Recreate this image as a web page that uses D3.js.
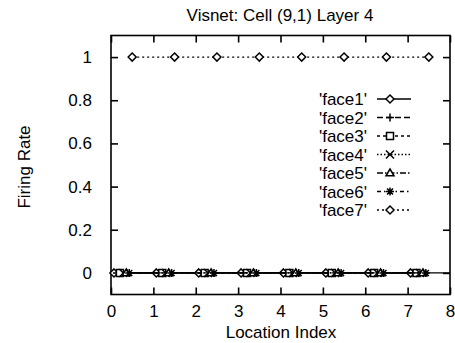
<!DOCTYPE html>
<html>
<head>
<meta charset="utf-8">
<script src="https://cdn.jsdelivr.net/npm/d3@7"></script>
<style>
  html, body { margin: 0; padding: 0; background: #fff; }
  svg { display: block; font-family: "Liberation Sans", Arial, sans-serif; }
</style>
</head>
<body>
<svg id="chart" width="455" height="343"></svg>
<script>
// Series names
const faces = ["'face1'", "'face2'", "'face3'", "'face4'", "'face5'", "'face6'", "'face7'"];
// Location index at which each series is sampled
const face1X = [0.07, 1.07, 2.07, 3.07, 4.07, 5.07, 6.07, 7.07];
const face2X = [0.14, 1.14, 2.14, 3.14, 4.14, 5.14, 6.14, 7.14];
const face3X = [0.21, 1.21, 2.21, 3.21, 4.21, 5.21, 6.21, 7.21];
const face4X = [0.29, 1.29, 2.29, 3.29, 4.29, 5.29, 6.29, 7.29];
const face5X = [0.36, 1.36, 2.36, 3.36, 4.36, 5.36, 6.36, 7.36];
const face6X = [0.43, 1.43, 2.43, 3.43, 4.43, 5.43, 6.43, 7.43];
const face7X = [0.5, 1.5, 2.5, 3.5, 4.5, 5.5, 6.5, 7.5];
// Firing rate of each series
const face1Y = [0, 0, 0, 0, 0, 0, 0, 0];
const face2Y = [0, 0, 0, 0, 0, 0, 0, 0];
const face3Y = [0, 0, 0, 0, 0, 0, 0, 0];
const face4Y = [0, 0, 0, 0, 0, 0, 0, 0];
const face5Y = [0, 0, 0, 0, 0, 0, 0, 0];
const face6Y = [0, 0, 0, 0, 0, 0, 0, 0];
const face7Y = [1, 1, 1, 1, 1, 1, 1, 1];
// Tick labels
const xTicks = [0, 1, 2, 3, 4, 5, 6, 7, 8];
const yTicks = [0, 0.2, 0.4, 0.6, 0.8, 1];

const xs = [face1X, face2X, face3X, face4X, face5X, face6X, face7X];
const ys = [face1Y, face2Y, face3Y, face4Y, face5Y, face6Y, face7Y];
const dashes = [null, "6,3", "3,3", "1.5,2", "6,2,1.5,2", "4,3,1.5,3", "2,3"];
const symbols = ["diamond", "plus", "square", "cross", "triangle", "star", "diamond"];

const svg = d3.select("#chart");
const L = 111, R = 450, T = 35.5, B = 294.5;
const x = d3.scaleLinear().domain([0, 8]).range([L, R]);
const y = d3.scaleLinear().domain([-0.1, 1.1]).range([B, T]);
const tickLen = 7;
const fs = 17;

// Frame
svg.append("rect").attr("x", L).attr("y", T).attr("width", R - L).attr("height", B - T)
  .attr("fill", "none").attr("stroke", "#000").attr("stroke-width", 1.6);

// Axes with inward ticks, mirrored on the opposite sides
const fmt = d => d3.format("~g")(d);
svg.append("g").attr("transform", `translate(0,${B})`)
  .call(d3.axisBottom(x).tickValues(xTicks).tickSize(-tickLen).tickPadding(10).tickFormat(fmt))
  .call(g => g.select(".domain").remove());
svg.append("g").attr("transform", `translate(0,${T})`)
  .call(d3.axisTop(x).tickValues(xTicks).tickSize(-tickLen).tickFormat(""))
  .call(g => g.select(".domain").remove());
svg.append("g").attr("transform", `translate(${L},0)`)
  .call(d3.axisLeft(y).tickValues(yTicks).tickSize(-tickLen).tickPadding(19).tickFormat(fmt))
  .call(g => g.select(".domain").remove());
svg.append("g").attr("transform", `translate(${R},0)`)
  .call(d3.axisRight(y).tickValues(yTicks).tickSize(-tickLen).tickFormat(""))
  .call(g => g.select(".domain").remove());
svg.selectAll(".tick line").attr("stroke", "#000").attr("stroke-width", 1.6);
svg.selectAll(".tick text").attr("font-size", fs).attr("fill", "#000")
  .attr("font-family", "Liberation Sans, Arial, sans-serif");

// Zero axis
svg.append("line").attr("x1", L).attr("x2", R).attr("y1", y(0)).attr("y2", y(0))
  .attr("stroke", "#000").attr("stroke-width", 1.3);

// Marker drawing
function marker(g, type, cx, cy) {
  const s = 4;
  const p = g.append("path").attr("fill", "#fff").attr("stroke", "#000").attr("stroke-width", 1.5);
  let d;
  switch (type) {
    case "diamond": d = `M${cx},${cy - s}L${cx + s},${cy}L${cx},${cy + s}L${cx - s},${cy}Z`; break;
    case "plus": d = `M${cx - s},${cy}H${cx + s}M${cx},${cy - s}V${cy + s}`; p.attr("fill", "none"); break;
    case "square": d = `M${cx - s + 0.5},${cy - s + 0.5}h${2 * s - 1}v${2 * s - 1}h${-(2 * s - 1)}Z`; break;
    case "cross": d = `M${cx - s},${cy - s}L${cx + s},${cy + s}M${cx - s},${cy + s}L${cx + s},${cy - s}`; p.attr("fill", "none"); break;
    case "triangle": d = `M${cx},${cy - s}L${cx + s},${cy + s * 0.7}L${cx - s},${cy + s * 0.7}Z`; break;
    case "star": d = `M${cx - s},${cy}H${cx + s}M${cx},${cy - s}V${cy + s}M${cx - s * 0.75},${cy - s * 0.75}L${cx + s * 0.75},${cy + s * 0.75}M${cx - s * 0.75},${cy + s * 0.75}L${cx + s * 0.75},${cy - s * 0.75}`; p.attr("fill", "none"); break;
  }
  p.attr("d", d);
}

// Series lines and points
const line = d3.line().x(d => x(d[0])).y(d => y(d[1]));
faces.forEach((name, i) => {
  const pts = xs[i].map((v, j) => [v, ys[i][j]]);
  svg.append("path").datum(pts).attr("d", line).attr("fill", "none")
    .attr("stroke", "#000").attr("stroke-width", 1.2)
    .attr("stroke-dasharray", dashes[i]);
  const g = svg.append("g");
  pts.forEach(p => marker(g, symbols[i], x(p[0]), y(p[1])));
});

// Legend
const legendY0 = 99, legendStep = 18.5;
faces.forEach((name, i) => {
  const ly = legendY0 + i * legendStep;
  svg.append("text").attr("x", 367).attr("y", ly + 6).attr("text-anchor", "end")
    .attr("font-size", fs).text(name);
  svg.append("line").attr("x1", 377).attr("x2", 411).attr("y1", ly).attr("y2", ly)
    .attr("stroke", "#000").attr("stroke-width", 1.3).attr("stroke-dasharray", dashes[i]);
  marker(svg.append("g"), symbols[i], 390, ly);
});

// Titles
svg.append("text").attr("x", 280).attr("y", 21).attr("text-anchor", "middle")
  .attr("font-size", fs).text("Visnet: Cell (9,1) Layer 4");
svg.append("text").attr("x", 281).attr("y", 338).attr("text-anchor", "middle")
  .attr("font-size", fs).text("Location Index");
svg.append("text").attr("transform", "translate(30,167) rotate(-90)").attr("text-anchor", "middle")
  .attr("font-size", fs).text("Firing Rate");
</script>
</body>
</html>
